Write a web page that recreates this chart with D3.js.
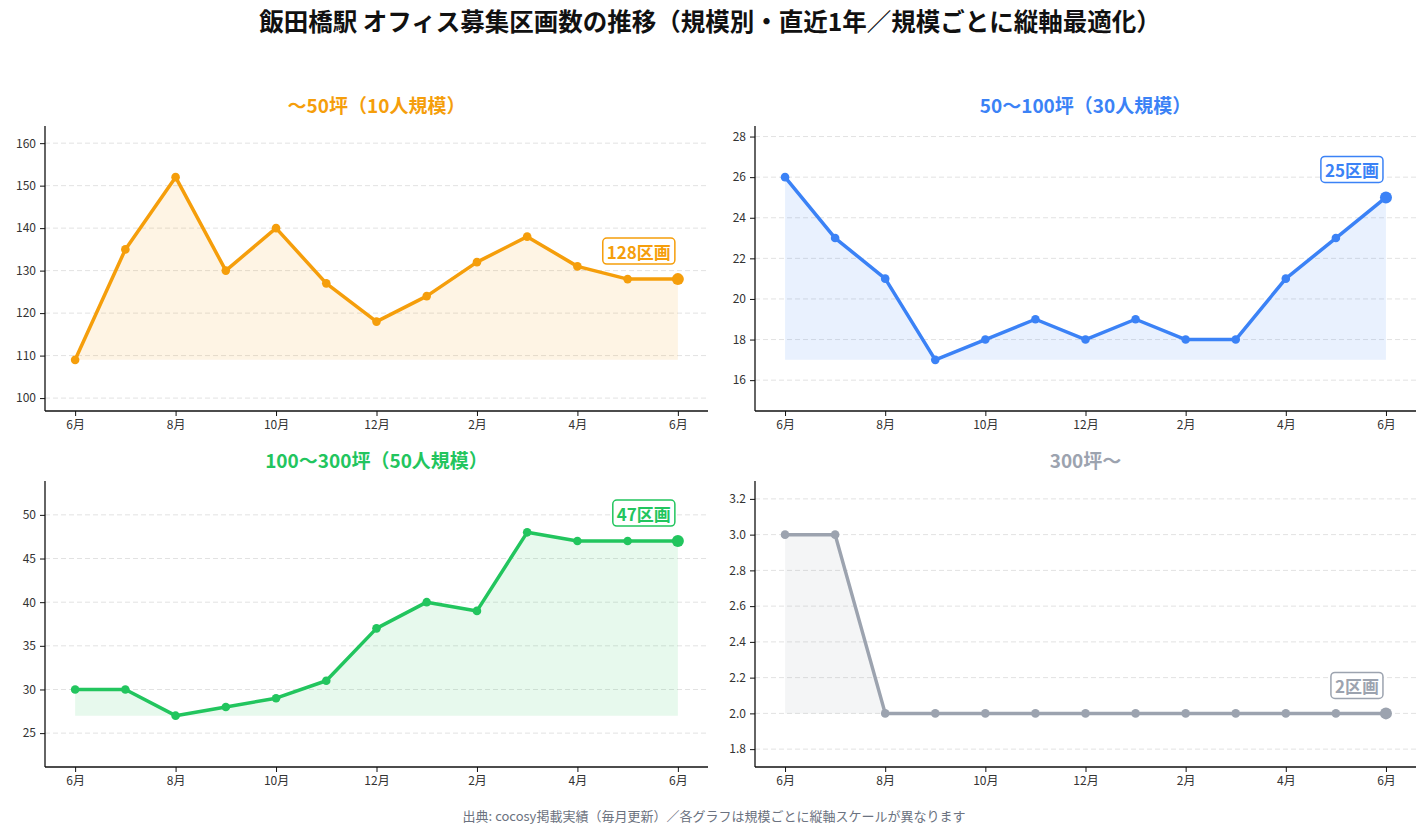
<!DOCTYPE html>
<html>
<head>
<meta charset="utf-8">
<script src="https://cdn.jsdelivr.net/npm/d3@7"></script>
<style>
  body { margin: 0; background: #fff; }
  text { font-family: "Noto Sans CJK JP", "Noto Sans", sans-serif; }
</style>
</head>
<body>
<script>
// 月ラベル (直近1年 + 当月)
var months = ["6月", "7月", "8月", "9月", "10月", "11月", "12月", "1月", "2月", "3月", "4月", "5月", "6月"];

// 規模別の募集区画数
var small = [109, 135, 152, 130, 140, 127, 118, 124, 132, 138, 131, 128, 128];
var medium = [26, 23, 21, 17, 18, 19, 18, 19, 18, 18, 21, 23, 25];
var large = [30, 30, 27, 28, 29, 31, 37, 40, 39, 48, 47, 47, 47];
var xlarge = [3, 3, 2, 2, 2, 2, 2, 2, 2, 2, 2, 2, 2];

var titles = ["～50坪（10人規模）", "50～100坪（30人規模）", "100～300坪（50人規模）", "300坪～"];
var colors = ["#f59e0b", "#3b82f6", "#22c55e", "#9ca3af"];

var width = 1427,
    height = 836;

var svg = d3.select("body").append("svg")
    .attr("width", width)
    .attr("height", height);

svg.append("text")
    .attr("x", 710)
    .attr("y", 31)
    .attr("text-anchor", "middle")
    .attr("font-size", 24.5)
    .attr("font-weight", "bold")
    .attr("fill", "#111")
    .text("飯田橋駅 オフィス募集区画数の推移（規模別・直近1年／規模ごとに縦軸最適化）");

svg.append("text")
    .attr("x", 714)
    .attr("y", 821)
    .attr("text-anchor", "middle")
    .attr("font-size", 13)
    .attr("fill", "#6b7280")
    .text("出典: cocosy掲載実績（毎月更新）／各グラフは規模ごとに縦軸スケールが異なります");

// 各パネルの枠 (left, top, right, bottom)
var panels = [
    {data: small, box: [45, 126, 708, 411]},
    {data: medium, box: [755, 126, 1416, 411]},
    {data: large, box: [45, 481, 708, 767]},
    {data: xlarge, box: [755, 481, 1416, 767]}
];

panels.forEach(function (p, i)
{
    drawPanel(p.data, p.box, titles[i], colors[i]);
});

function drawPanel(values, box, title, color)
{
    var left = box[0], top = box[1], right = box[2], bottom = box[3];
    var n = values.length;

    var lo = d3.min(values), hi = d3.max(values);
    var pad = Math.max((hi - lo) * 0.28, 0.3);

    var x = d3.scaleLinear()
        .domain([-0.6, n - 1 + 0.6])
        .range([left, right]);

    var y = d3.scaleLinear()
        .domain([lo - pad, hi + pad])
        .range([bottom, top]);

    var g = svg.append("g");

    var yTicks = y.ticks(7);
    var step = yTicks[1] - yTicks[0];
    var fmt = step < 1 ? d3.format(".1f") : d3.format("d");

    // grid
    g.selectAll(".grid")
        .data(yTicks)
        .enter().append("line")
        .attr("x1", left)
        .attr("x2", right)
        .attr("y1", function (d) { return y(d); })
        .attr("y2", function (d) { return y(d); })
        .attr("stroke", "#e2e2e2")
        .attr("stroke-width", 1)
        .attr("stroke-dasharray", "5,3");

    // area from min value
    var area = d3.area()
        .x(function (d, k) { return x(k); })
        .y0(y(lo))
        .y1(function (d) { return y(d); });

    g.append("path")
        .datum(values)
        .attr("d", area)
        .attr("fill", color)
        .attr("fill-opacity", 0.11);

    var line = d3.line()
        .x(function (d, k) { return x(k); })
        .y(function (d) { return y(d); });

    g.append("path")
        .datum(values)
        .attr("d", line)
        .attr("fill", "none")
        .attr("stroke", color)
        .attr("stroke-width", 3.5)
        .attr("stroke-linejoin", "round");

    g.selectAll(".pt")
        .data(values)
        .enter().append("circle")
        .attr("cx", function (d, k) { return x(k); })
        .attr("cy", function (d) { return y(d); })
        .attr("r", function (d, k) { return k === n - 1 ? 6 : 4.3; })
        .attr("fill", color);

    // axes
    var yAxis = d3.axisLeft(y)
        .tickValues(yTicks)
        .tickFormat(fmt)
        .tickSize(5)
        .tickPadding(4);

    var xAxis = d3.axisBottom(x)
        .tickValues(d3.range(0, n, 2))
        .tickFormat(function (k) { return months[k]; })
        .tickSize(5)
        .tickPadding(4);

    var ya = g.append("g")
        .attr("transform", "translate(" + left + ",0)")
        .call(yAxis);
    ya.select(".domain").attr("d", "M0," + top + "V" + bottom);

    var xa = g.append("g")
        .attr("transform", "translate(0," + bottom + ")")
        .call(xAxis);
    xa.select(".domain").attr("d", "M" + left + ",0H" + right);

    g.selectAll(".tick text")
        .attr("font-size", 12)
        .attr("fill", "#333");
    g.selectAll(".domain").attr("stroke", "#111").attr("stroke-width", 1.3);
    g.selectAll(".tick line").attr("stroke", "#111");

    // title
    g.append("text")
        .attr("x", (left + right) / 2)
        .attr("y", top - 13)
        .attr("text-anchor", "middle")
        .attr("font-size", 19)
        .attr("font-weight", "bold")
        .attr("fill", color)
        .text(title);

    // latest label
    var lx = x(n - 1), ly = y(values[n - 1]);
    var label = g.append("g");
    var txt = label.append("text")
        .attr("x", lx - 7)
        .attr("y", ly - 20)
        .attr("text-anchor", "end")
        .attr("font-size", 17)
        .attr("font-weight", "bold")
        .attr("fill", color)
        .text(values[n - 1] + "区画");
    var bb = txt.node().getBBox();
    label.insert("rect", "text")
        .attr("x", bb.x - 4)
        .attr("y", bb.y - 1)
        .attr("width", bb.width + 8)
        .attr("height", bb.height + 1)
        .attr("rx", 4)
        .attr("fill", "#fff")
        .attr("stroke", color)
        .attr("stroke-width", 1.5);
}
</script>
</body>
</html>
